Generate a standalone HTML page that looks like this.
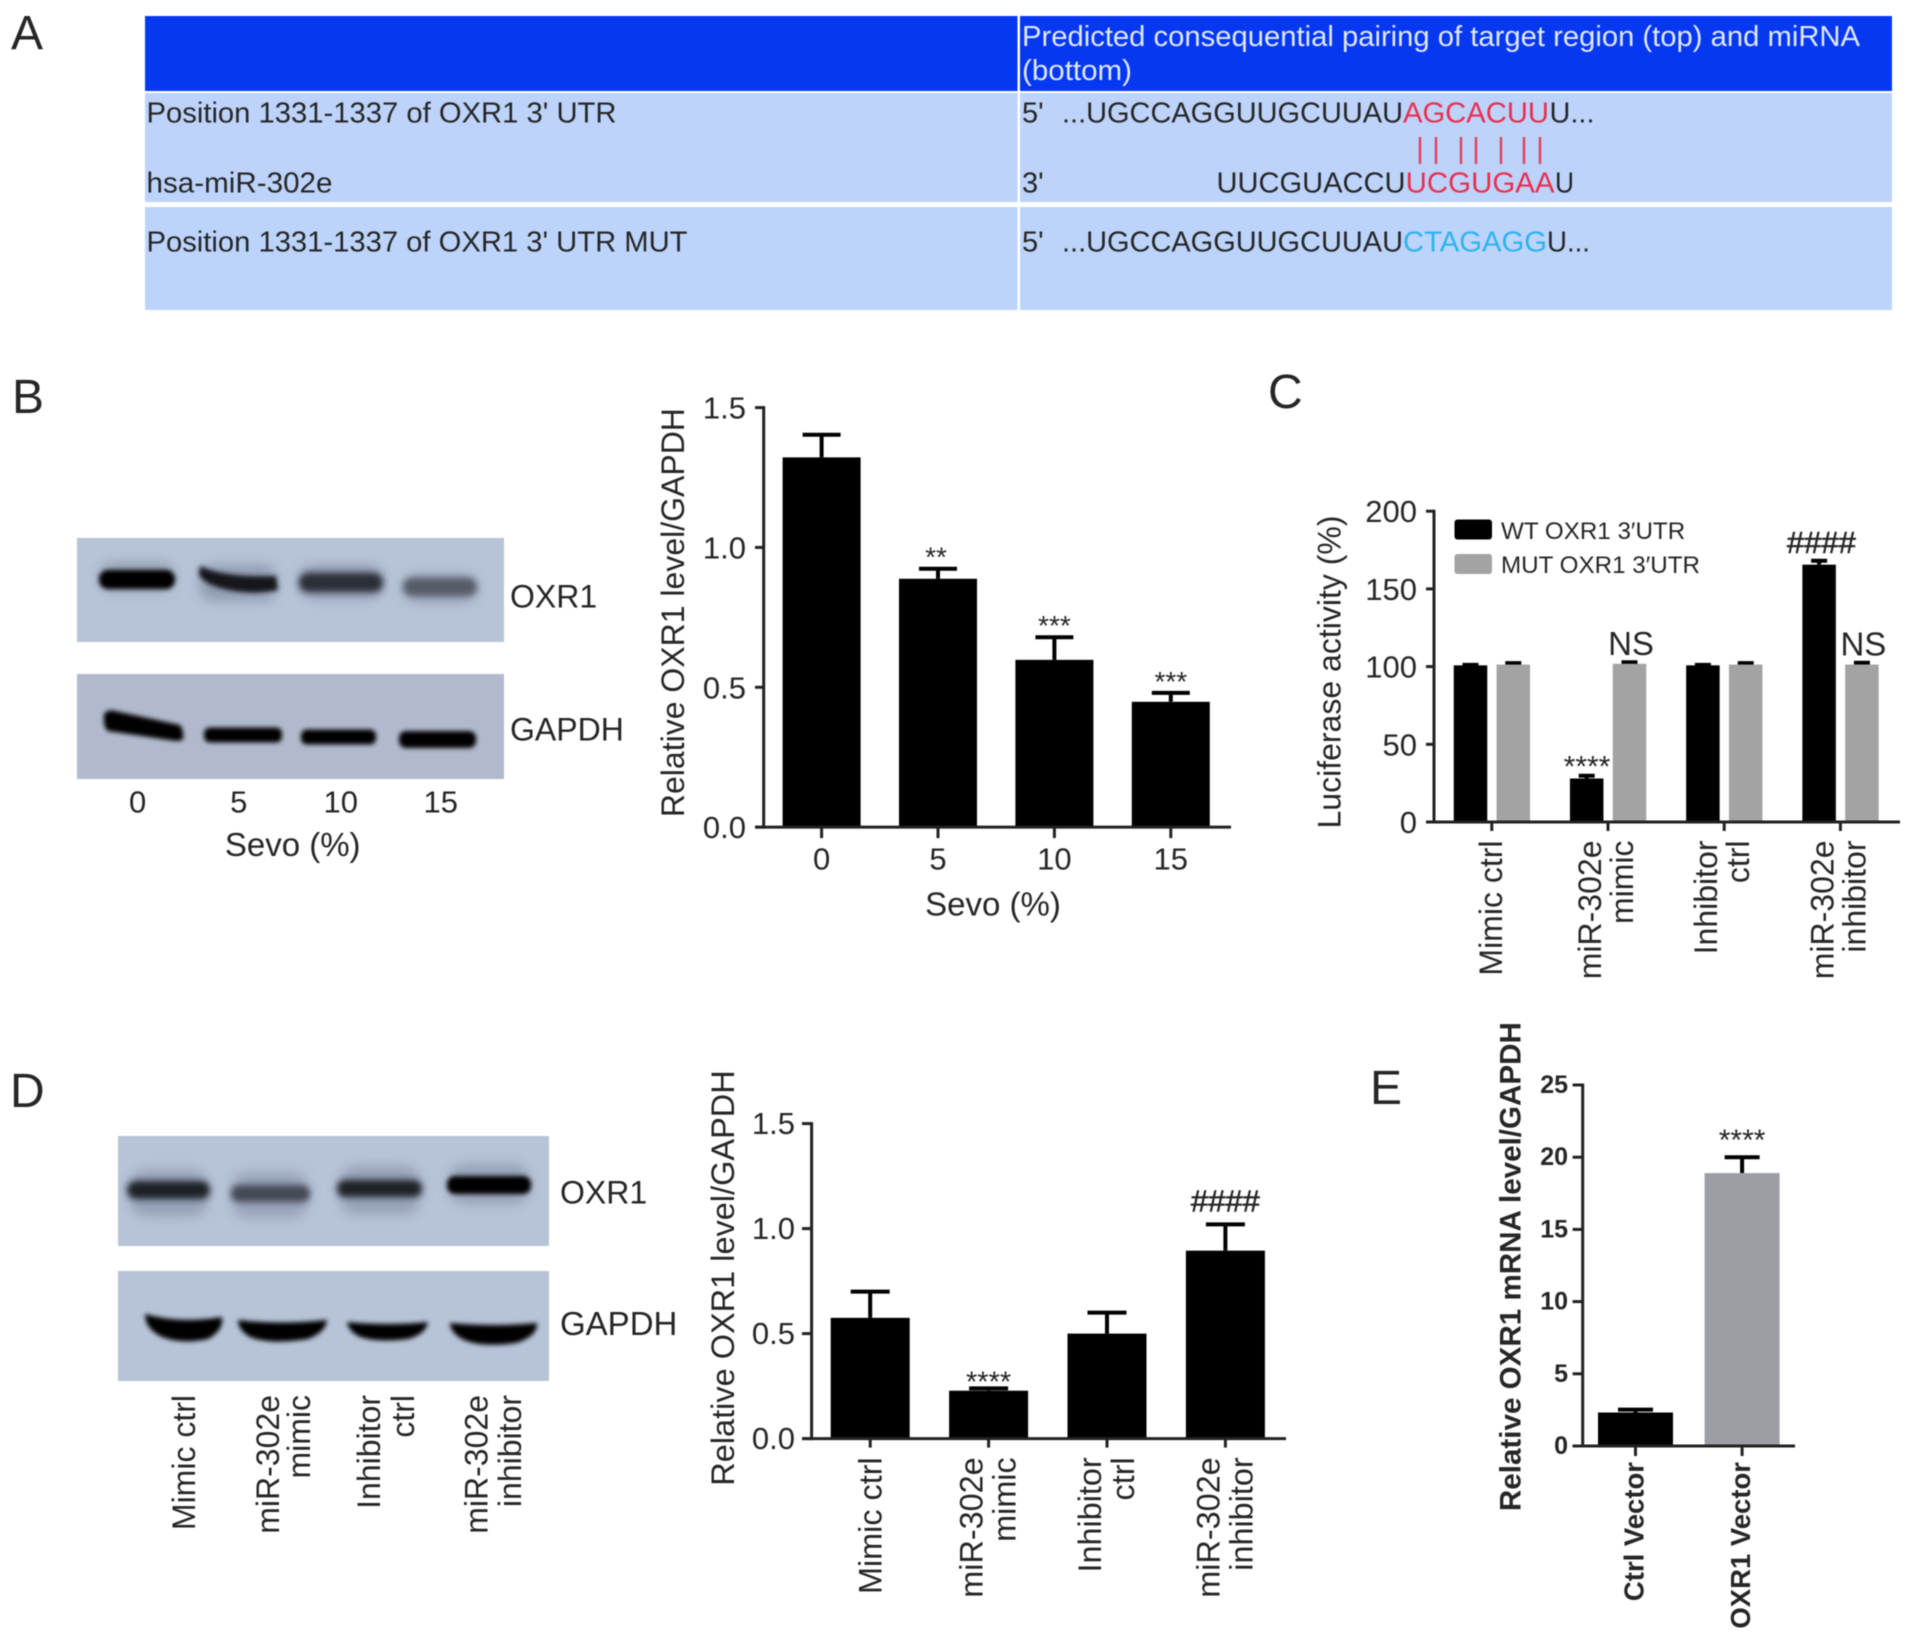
<!DOCTYPE html>
<html lang="en">
<head>
<meta charset="utf-8">
<title>OXR1 miR-302e figure</title>
<style>
html,body{margin:0;padding:0;background:#fff;width:1913px;height:1636px;overflow:hidden}
svg{display:block;font-family:"Liberation Sans",sans-serif;filter:blur(0.5px)}
text{fill:#262626}
</style>
</head>
<body>
<svg id="figure" xmlns="http://www.w3.org/2000/svg" width="1913" height="1636" viewBox="0 0 1913 1636">
<defs>
<filter id="b2" x="-30%" y="-100%" width="160%" height="300%"><feGaussianBlur stdDeviation="2.4"/></filter>
<filter id="b3" x="-30%" y="-100%" width="160%" height="300%"><feGaussianBlur stdDeviation="3.4"/></filter>
<filter id="b5" x="-30%" y="-150%" width="160%" height="400%"><feGaussianBlur stdDeviation="6"/></filter>
</defs>
<rect width="1913" height="1636" fill="#fff"/>

<!-- Panel letters -->
<g font-size="48">
<text x="11" y="49">A</text>
<text x="12" y="413">B</text>
<text x="1268" y="408">C</text>
<text x="10" y="1107">D</text>
<text x="1370" y="1104">E</text>
</g>

<!-- Panel A table -->
<g font-size="29">
<rect x="145" y="16" width="1747" height="75" fill="#0638f2"/>
<rect x="145" y="93" width="1747" height="109" fill="#bdd3fb"/>
<rect x="145" y="207" width="1747" height="103" fill="#bcd4fc"/>
<rect x="1017.5" y="16" width="2.5" height="294" fill="#fff"/>
<text x="1022" y="46" textLength="838" lengthAdjust="spacingAndGlyphs" style="fill:#dfe8ff">Predicted consequential pairing of target region (top) and miRNA</text>
<text x="1022" y="80" textLength="110" lengthAdjust="spacingAndGlyphs" style="fill:#dfe8ff">(bottom)</text>

<text x="146.5" y="122.7" textLength="470" lengthAdjust="spacingAndGlyphs">Position 1331-1337 of OXR1 3' UTR</text>
<text x="146.5" y="192.3" textLength="186" lengthAdjust="spacingAndGlyphs">hsa-miR-302e</text>
<text x="146.5" y="251.5" textLength="541" lengthAdjust="spacingAndGlyphs">Position 1331-1337 of OXR1 3' UTR MUT</text>

<text x="1022" y="122.7">5'</text>
<text x="1062" y="122.7" textLength="341" lengthAdjust="spacingAndGlyphs">...UGCCAGGUUGCUUAU</text>
<text x="1403" y="122.7" textLength="146" lengthAdjust="spacingAndGlyphs" style="fill:#ea2f4e">AGCACUU</text>
<text x="1549.5" y="122.7" textLength="45" lengthAdjust="spacingAndGlyphs">U...</text>

<g stroke="#e0405e" stroke-width="2.4">
<line x1="1420" x2="1420" y1="137" y2="164"/><line x1="1436" x2="1436" y1="137" y2="164"/>
<line x1="1461" x2="1461" y1="137" y2="164"/><line x1="1476" x2="1476" y1="137" y2="164"/>
<line x1="1501" x2="1501" y1="137" y2="164"/><line x1="1524" x2="1524" y1="137" y2="164"/>
<line x1="1540" x2="1540" y1="137" y2="164"/>
</g>

<text x="1022" y="192.3">3'</text>
<text x="1216.5" y="192.3" textLength="189" lengthAdjust="spacingAndGlyphs">UUCGUACCU</text>
<text x="1405.6" y="192.3" textLength="149" lengthAdjust="spacingAndGlyphs" style="fill:#ea2f4e">UCGUGAA</text>
<text x="1555" y="192.3" textLength="19" lengthAdjust="spacingAndGlyphs">U</text>

<text x="1022" y="251.5">5'</text>
<text x="1062" y="251.5" textLength="341" lengthAdjust="spacingAndGlyphs">...UGCCAGGUUGCUUAU</text>
<text x="1403" y="251.5" textLength="144" lengthAdjust="spacingAndGlyphs" style="fill:#2db3ee">CTAGAGG</text>
<text x="1547" y="251.5" textLength="43" lengthAdjust="spacingAndGlyphs">U...</text>
</g>

<!-- Panel B blot -->
<g>
<rect x="77" y="538" width="427" height="104" fill="#b7c3d7"/>
<rect x="77" y="674" width="427" height="105" fill="#b1bacd"/>
<g>
<rect x="100" y="563" width="74" height="28" rx="12" fill="#6b7386" opacity=".5" filter="url(#b5)"/>
<rect x="200" y="565" width="76" height="36" rx="12" fill="#6b7386" opacity=".5" filter="url(#b5)"/>
<rect x="300" y="566" width="82" height="32" rx="12" fill="#6b7386" opacity=".55" filter="url(#b5)"/>
<rect x="404" y="574" width="72" height="28" rx="12" fill="#6b7386" opacity=".45" filter="url(#b5)"/>
<rect x="99" y="570" width="76" height="19" rx="9" fill="#000" filter="url(#b2)"/>
<path d="M200 566 Q225 578 276 576 L278 590 Q250 596 220 588 Q201 582 199 574Z" fill="#15161c" filter="url(#b2)"/>
<rect x="299" y="573" width="84" height="19" rx="9" fill="#2c2f38" filter="url(#b3)"/>
<rect x="403" y="578" width="74" height="18" rx="9" fill="#565b68" filter="url(#b3)"/>
</g>
<g>
<path d="M104 714 Q108 709 115 711 L180 725 Q184 730 183 740 L176 741 L108 731 Q103 728 104 714Z" fill="#000" filter="url(#b2)"/>
<rect x="204" y="727.5" width="78" height="15" rx="6" fill="#000" filter="url(#b2)"/>
<rect x="301" y="729.5" width="75" height="15" rx="6" fill="#000" filter="url(#b2)"/>
<rect x="399" y="731" width="77" height="17" rx="7" fill="#000" filter="url(#b2)"/>
</g>
<g font-size="31">
<text x="510" y="607.3" font-size="32">OXR1</text>
<text x="510" y="740.7" font-size="32">GAPDH</text>
<g text-anchor="middle">
<text x="137.6" y="812.7">0</text>
<text x="238.8" y="812.7">5</text>
<text x="340.8" y="812.7">10</text>
<text x="440.8" y="812.7">15</text>
<text x="292.7" y="856" font-size="33">Sevo (%)</text>
</g>
</g>
</g>

<!-- Panel D blot -->
<g>
<rect x="118" y="1136" width="431" height="110" fill="#b7c3d7"/>
<rect x="118" y="1271" width="431" height="110" fill="#b7c3d7"/>
<g>
<rect x="130" y="1170" width="78" height="46" rx="16" fill="#79829a" opacity=".55" filter="url(#b5)"/>
<rect x="232" y="1172" width="76" height="46" rx="16" fill="#79829a" opacity=".5" filter="url(#b5)"/>
<rect x="340" y="1166" width="80" height="48" rx="16" fill="#79829a" opacity=".55" filter="url(#b5)"/>
<rect x="449" y="1164" width="80" height="40" rx="16" fill="#79829a" opacity=".55" filter="url(#b5)"/>
<rect x="127" y="1181" width="83" height="18" rx="9" fill="#1e2128" filter="url(#b3)"/>
<rect x="231" y="1185" width="79" height="17" rx="8" fill="#454955" filter="url(#b3)"/>
<rect x="337" y="1180" width="85" height="17" rx="8" fill="#1e2128" filter="url(#b3)"/>
<rect x="447" y="1176" width="84" height="18" rx="8" fill="#000" filter="url(#b2)"/>
</g>
<g fill="#000">
<path d="M145 1314 Q180 1324 222 1317 Q224 1330 208 1339 Q180 1345 160 1336 Q145 1328 145 1314Z" filter="url(#b2)"/>
<path d="M238 1320 Q280 1325 327 1320 Q326 1332 308 1339 Q270 1345 250 1337 Q238 1330 238 1320Z" filter="url(#b2)"/>
<path d="M347 1322 Q390 1326 428 1322 Q426 1334 408 1339 Q375 1343 358 1336 Q348 1330 347 1322Z" filter="url(#b2)"/>
<path d="M450 1323 Q495 1327 537 1323 Q538 1336 516 1343 Q480 1348 462 1339 Q450 1332 450 1323Z" filter="url(#b2)"/>
</g>
<g font-size="32">
<text x="560" y="1203.3">OXR1</text>
<text x="560" y="1335" font-size="33">GAPDH</text>
</g>
<g font-size="32" text-anchor="end">
<text transform="translate(195 1395) rotate(-90)">Mimic ctrl</text>
<text transform="translate(279 1395) rotate(-90)">miR-302e</text>
<text transform="translate(310 1395) rotate(-90)">mimic</text>
<text transform="translate(380 1395) rotate(-90)">Inhibitor</text>
<text transform="translate(414 1395) rotate(-90)">ctrl</text>
<text transform="translate(487.5 1395) rotate(-90)">miR-302e</text>
<text transform="translate(521 1395) rotate(-90)">inhibitor</text>
</g>
</g>

<g id="chart-b"></g>
<g id="chart-c"></g>
<g id="chart-d"></g>
<g id="chart-e"></g>
</svg>

<script>
// ---- Panel B data ----
const bCategories = [["0"], ["5"], ["10"], ["15"]];
const bValues = [1.322, 0.888, 0.598, 0.448];
const bErrors = [0.081, 0.036, 0.081, 0.032];
const bTicks = [0, 0.5, 1.0, 1.5];
const bTickLabels = ["0.0", "0.5", "1.0", "1.5"];
const bMarks = ["", "**", "***", "***"];

// ---- Panel C data ----
const cCategories = [["Mimic ctrl"], ["miR-302e", "mimic"], ["Inhibitor", "ctrl"], ["miR-302e", "inhibitor"]];
const cSeriesNames = ["WT OXR1 3\u2032UTR", "MUT OXR1 3\u2032UTR"];
const cWT = [100.8, 28, 100.8, 165.6];
const cWTError = [0.3, 1.8, 0.3, 2.5];
const cMUT = [101.3, 101.8, 101.3, 101.3];
const cMUTError = [0.9, 1.0, 0.9, 1.2];
const cTicks = [0, 50, 100, 150, 200];
const cTickLabels = ["0", "50", "100", "150", "200"];
const cWTMarks = ["", "****", "", "####"];
const cMUTMarks = ["", "NS", "", "NS"];

// ---- Panel D data ----
const dCategories = [["Mimic ctrl"], ["miR-302e", "mimic"], ["Inhibitor", "ctrl"], ["miR-302e", "inhibitor"]];
const dValues = [0.575, 0.228, 0.50, 0.895];
const dErrors = [0.125, 0.011, 0.10, 0.125];
const dTicks = [0, 0.5, 1.0, 1.5];
const dTickLabels = ["0.0", "0.5", "1.0", "1.5"];
const dMarks = ["", "****", "", "####"];

// ---- Panel E data ----
const eCategories = [["Ctrl Vector"], ["OXR1 Vector"]];
const eValues = [2.32, 18.9];
const eErrors = [0.2, 1.1];
const eTicks = [0, 5, 10, 15, 20, 25];
const eTickLabels = ["0", "5", "10", "15", "20", "25"];
const eMarks = ["", "****"];

const SVGNS = "http://www.w3.org/2000/svg";
function make(parent, tag, attrs, txt) {
  const el = document.createElementNS(SVGNS, tag);
  for (const k in attrs) el.setAttribute(k, attrs[k]);
  if (txt !== undefined) el.textContent = txt;
  parent.appendChild(el);
  return el;
}
function linearY(o) { return v => o.y0 - (v - o.vMin) * (o.y0 - o.y1) / (o.vMax - o.vMin); }
function bandX(o) { return i => o.x0 + i * o.step; }

function drawAxes(g, o, tickVals, tickLabels, cats, y, x) {
  const sw = o.axisWidth || 3;
  const stroke = "#222";
  let el = make(g, "line", {x1: o.axisX, x2: o.axisX, y1: y(o.vMax) - sw / 2, y2: o.y0 + sw / 2, stroke: stroke, "stroke-width": sw});
  
  
  el = make(g, "line", {x1: o.axisLeft, x2: o.axisRight, y1: o.y0, y2: o.y0, stroke: stroke, "stroke-width": sw});
  
  
  tickVals.forEach((t, i) => {
    const yy = y(t);
    const tk = make(g, "line", {x1: o.axisLeft, x2: o.axisX, y1: yy, y2: yy, stroke: stroke, "stroke-width": sw});
    
    
    const lb = make(g, "text", {x: o.tickRight, y: yy + o.tickDy, "text-anchor": "end", "font-size": o.tickFont, "font-weight": o.bold ? "bold" : "normal"}, tickLabels[i]);
    
    
  });
  cats.forEach((lines, i) => {
    const xx = x(i);
    const tk = make(g, "line", {x1: xx, x2: xx, y1: o.y0, y2: o.y0 + o.tickLen, stroke: stroke, "stroke-width": sw});
    
    
    lines.forEach((line, j) => {
      let lb;
      if (o.rotated) {
        const bx = lines.length === 1 ? xx + o.singleDx : xx + o.doubleDx + j * o.lineGap;
        lb = make(g, "text", {transform: "translate(" + bx + " " + o.labelTop + ") rotate(-90)", "text-anchor": "end", "font-size": o.catFont, "font-weight": o.bold ? "bold" : "normal"}, line);
      } else {
        lb = make(g, "text", {x: xx, y: o.labelBase, "text-anchor": "middle", "font-size": o.catFont}, line);
      }
      
      
    });
  });
}
function drawBar(g, cx, w, val, err, capW, y, o, fill, name) {
  const top = y(val);
  const er = make(g, "path", {d: "M" + cx + " " + top + "V" + y(val + err) + "M" + (cx - capW / 2) + " " + y(val + err) + "H" + (cx + capW / 2), stroke: o.errColor || "#000", "stroke-width": o.errWidth || 4, fill: "none"});
  
  
  const b = make(g, "rect", {x: cx - w / 2, y: top, width: w, height: o.y0 - top, fill: fill});
  
  
}
function drawMark(g, cx, val, err, mark, y, o) {
  if (!mark) return;
  const isStar = mark[0] === "*";
  const size = isStar ? o.starFont : o.hashFont;
  const gap = isStar ? o.starGap : o.hashGap;
  const m = make(g, "text", {x: cx, y: y(val + err) - gap, "text-anchor": "middle", "font-size": size, "stroke": isStar ? "none" : "#262626", "stroke-width": isStar ? 0 : 0.6}, mark);
  
  
}
function drawTitle(g, x, cy, text, size, bold) {
  const t = make(g, "text", {transform: "translate(" + x + " " + cy + ") rotate(-90)", "text-anchor": "middle", "font-size": size, "font-weight": bold ? "bold" : "normal"}, text);
  
  
}

// Panel B
(function () {
  const g = document.getElementById("chart-b");
  const o = {y0: 827.1, y1: 407.6, vMin: 0, vMax: 1.5, x0: 821.6, step: 116.4, axisX: 763.7, axisLeft: 755, axisRight: 1231,
    tickRight: 746, tickDy: 11, tickFont: 31, tickLen: 11, catFont: 31, labelBase: 869.6, starFont: 28, starGap: 2, hashFont: 31, hashGap: 3};
  const y = linearY(o), x = bandX(o);
  bValues.forEach((v, i) => {
    drawBar(g, x(i), 78, v, bErrors[i], 38, y, o, "#000", "bar-sevo-" + bCategories[i][0]);
    drawMark(g, x(i) - (i === 1 ? 2 : 0), v, bErrors[i], bMarks[i], y, o);
  });
  drawAxes(g, o, bTicks, bTickLabels, bCategories, y, x);
  drawTitle(g, 684, 612.6, "Relative OXR1 level/GAPDH", 32);
  const t = make(g, "text", {x: 993, y: 915.5, "text-anchor": "middle", "font-size": 33}, "Sevo (%)");
  
  
})();

// Panel C
(function () {
  const g = document.getElementById("chart-c");
  const o = {y0: 822, y1: 511.2, vMin: 0, vMax: 200, x0: 1491.8, step: 116.2, axisX: 1434, axisLeft: 1426, axisRight: 1900,
    tickRight: 1417, tickDy: 11, tickFont: 31, tickLen: 9, catFont: 32, rotated: true, labelTop: 840.5, singleDx: 10, doubleDx: -7, lineGap: 32,
    starFont: 30, starGap: -1, hashFont: 31, hashGap: 8, errColor: "#000", errWidth: 4};
  const y = linearY(o), x = bandX(o);
  cWT.forEach((v, i) => {
    drawBar(g, x(i) - 21.3, 33.5, v, cWTError[i], 16, y, o, "#000", "bar-wt-" + i);
    drawBar(g, x(i) + 21.5, 33.5, cMUT[i], cMUTError[i], 16, y, o, "#a3a3a3", "bar-mut-" + i);
    drawMark(g, x(i) - 19 - (i === 1 ? 2 : 0), v, cWTError[i], cWTMarks[i], y, o);
    if (cMUTMarks[i]) {
      const n = make(g, "text", {x: x(i) + 23, y: y(cMUT[i] + cMUTError[i]) - 7, "text-anchor": "middle", "font-size": 33}, cMUTMarks[i]);
      
      
    }
  });
  drawAxes(g, o, cTicks, cTickLabels, cCategories, y, x);
  drawTitle(g, 1340.5, 672, "Luciferase activity (%)", 32);
  const colors = ["#000", "#a3a3a3"];
  const rectY = [519.5, 554];
  const textY = [539.2, 573.2];
  cSeriesNames.forEach((s, i) => {
    const sw = make(g, "rect", {x: 1454.5, y: rectY[i], width: 37.5, height: 20, rx: 3, fill: colors[i]});
    
    
    const t = make(g, "text", {x: 1501, y: textY[i], "font-size": 24.2}, s);
    
    
  });
})();

// Panel D
(function () {
  const g = document.getElementById("chart-d");
  const o = {y0: 1438.6, y1: 1123.6, vMin: 0, vMax: 1.5, x0: 870.2, step: 118.4, axisX: 811.6, axisLeft: 802, axisRight: 1286,
    tickRight: 795, tickDy: 10.5, tickFont: 31, tickLen: 9, catFont: 32.4, rotated: true, labelTop: 1457.3, singleDx: 11.5, doubleDx: -6, lineGap: 33,
    starFont: 29, starGap: -3, hashFont: 31, hashGap: 13};
  const y = linearY(o), x = bandX(o);
  dValues.forEach((v, i) => {
    drawBar(g, x(i), 79, v, dErrors[i], 39, y, o, "#000", "bar-" + i);
    drawMark(g, x(i), v, dErrors[i], dMarks[i], y, o);
  });
  drawAxes(g, o, dTicks, dTickLabels, dCategories, y, x);
  drawTitle(g, 734, 1278, "Relative OXR1 level/GAPDH", 32.5);
})();

// Panel E
(function () {
  const g = document.getElementById("chart-e");
  const o = {y0: 1446, y1: 1085, vMin: 0, vMax: 25, x0: 1635.5, step: 106.6, axisX: 1582.7, axisLeft: 1572.6, axisRight: 1795,
    tickRight: 1568, tickDy: 8, tickFont: 25, tickLen: 10, catFont: 27.5, bold: true, rotated: true, labelTop: 1462, singleDx: 8, doubleDx: 0, lineGap: 0,
    starFont: 30, starGap: 7, hashFont: 31, hashGap: 7};
  const y = linearY(o), x = bandX(o);
  const fills = ["#000", "#9d9da4"];
  eValues.forEach((v, i) => {
    drawBar(g, x(i), 75, v, eErrors[i], 35, y, o, fills[i], "bar-" + i);
    drawMark(g, x(i), v, eErrors[i], eMarks[i], y, o);
  });
  drawAxes(g, o, eTicks, eTickLabels, eCategories, y, x);
  drawTitle(g, 1520.6, 1266.6, "Relative OXR1 mRNA level/GAPDH", 29.6, true);
})();
</script>
</body>
</html>
